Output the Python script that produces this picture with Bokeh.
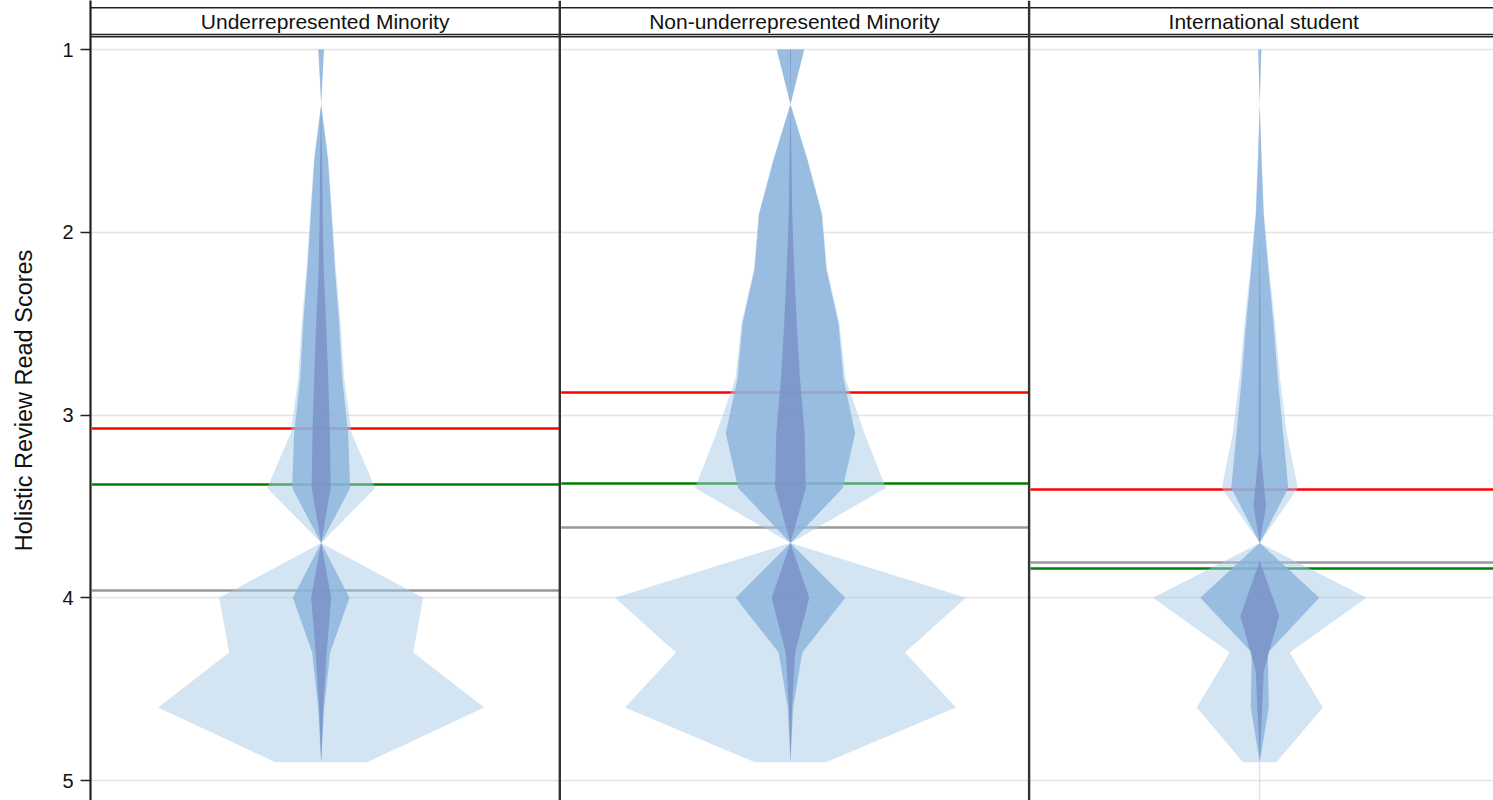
from bokeh.plotting import figure
from bokeh.models import Range1d, FixedTicker, Span
from bokeh.core.properties import value
from bokeh.embed import file_html
from bokeh.resources import INLINE

# ---------------- data ----------------
panels = ["Underrepresented Minority", "Non-underrepresented Minority", "International student"]
y_title = "Holistic Review Read Scores"
y_ticks = [1, 2, 3, 4, 5]

score_levels = [1.0, 1.3, 1.6, 1.9, 2.2, 2.5, 2.8, 3.1, 3.4, 3.7, 4.0, 4.3, 4.6, 4.9]

# half-width profiles (density units) for the three nested layers
urm_outer  = [3.0, 0, 7.3, 11.0, 14.6, 19.5, 23.0, 30.5, 54.0, 0, 102.0, 92.0, 163.0, 46.0]
urm_middle = [2.7, 0, 6.7, 10.3, 13.7, 18.0, 21.0, 27.0, 29.0, 0, 28.3, 9.0, 3.0, 0]
urm_inner  = [0, 0, 1.0, 1.5, 2.5, 5.0, 7.0, 8.7, 9.5, 0, 10.0, 5.5, 2.0, 0]

nonurm_outer  = [13.9, 0, 17.2, 31.8, 36.5, 49.0, 55.0, 74.0, 95.5, 0, 175.5, 114.5, 165.5, 35.5]
nonurm_middle = [13.7, 0, 16.7, 31.3, 35.8, 48.0, 53.0, 64.7, 52.3, 0, 54.8, 11.8, 2.7, 0]
nonurm_inner  = [0.5, 0, 1.0, 1.7, 3.7, 6.3, 9.5, 14.2, 15.3, 0, 18.8, 4.7, 1.5, 0]

intl_outer  = [1.6, 0, 2.0, 4.3, 9.3, 15.3, 20.3, 27.0, 38.0, 0, 106.7, 30.0, 63.0, 16.7]
intl_middle = [1.5, 0, 1.7, 3.8, 8.5, 13.7, 18.0, 23.3, 28.5, 0, 59.5, 8.0, 9.0, 0]
intl_inner_levels = [2.0, 2.5, 3.2, 3.5, 3.7, 3.8, 4.1, 4.4, 4.6, 4.9]
intl_inner = [0, 0.8, 1.0, 6.2, 0, 0, 19.5, 4.0, 2.5, 0]
intl_tail = [4.9, 5.2]

red_means = [3.074, 2.877, 3.408]
green_means = [3.380, 3.375, 3.840]
gray_means = [3.960, 3.616, 3.807]

# ---------------- layout constants ----------------
PX_PER_UNIT = 182.75          # vertical pixels per score unit
PANEL_PX = 469.3              # panel width in pixels
W_SCALE = 1.0 / PANEL_PX      # density units -> panel fraction
CENTER = 0.4915               # violin centre inside a panel
FONT = "Liberation Sans"
FIG_W, FIG_H, LEFT = 1493, 800, 90

def page_y(py):
    return 1 + (py - 49) / PX_PER_UNIT

p = figure(width=FIG_W, height=FIG_H, output_backend="svg", toolbar_location=None,
           x_range=Range1d(0, (FIG_W - LEFT) / PANEL_PX),
           y_range=Range1d(page_y(FIG_H), page_y(0)),
           x_axis_location=None,
           min_border_left=LEFT, min_border_right=0, min_border_top=0, min_border_bottom=0)
p.outline_line_color = None
p.background_fill_color = "white"
p.border_fill_color = "white"
p.xgrid.visible = False
p.ygrid.ticker = FixedTicker(ticks=y_ticks)
p.ygrid.grid_line_color = "#e4e4e4"
p.ygrid.grid_line_width = 1.6

yax = p.yaxis[0]
yax.ticker = FixedTicker(ticks=y_ticks)
yax.major_label_text_font = FONT
yax.major_label_text_font_size = "20px"
yax.major_label_text_color = "#111111"
yax.major_tick_out = 10
yax.major_tick_in = 0
yax.minor_tick_out = 0
yax.minor_tick_in = 0
yax.major_label_standoff = 7
yax.axis_line_width = 2.2
yax.axis_line_color = "#222222"
yax.major_tick_line_width = 1.6
yax.major_tick_line_color = "#222222"
yax.axis_label = y_title
yax.axis_label_text_font = FONT
yax.axis_label_text_font_size = "23.5px"
yax.axis_label_text_font_style = "normal"
yax.axis_label_text_color = "#111111"
yax.axis_label_standoff = 22

# stat lines (under the violins)
for i in range(3):
    p.segment(x0=[i + 0.003], x1=[i + 1], y0=[red_means[i]], y1=[red_means[i]],
              line_color="#ff0000", line_width=2.6)
    p.segment(x0=[i + 0.003], x1=[i + 1], y0=[green_means[i]], y1=[green_means[i]],
              line_color="#008000", line_width=2.6)
    p.segment(x0=[i + 0.003], x1=[i + 1], y0=[gray_means[i]], y1=[gray_means[i]],
              line_color="#999999", line_width=2.6)

def poly(center, levels, widths):
    xs = [center - w * W_SCALE for w in widths] + [center + w * W_SCALE for w in reversed(widths)]
    ys = list(levels) + list(reversed(levels))
    return xs, ys

layers = [
    ([(score_levels, urm_outer), (score_levels, nonurm_outer), (score_levels, intl_outer)], "#a7c9e7", 0.5),
    ([(score_levels, urm_middle), (score_levels, nonurm_middle), (score_levels, intl_middle)], "#89b3db", 0.8),
    ([(score_levels, urm_inner), (score_levels, nonurm_inner), (intl_inner_levels, intl_inner)], "#7990c7", 0.8),
]
for profiles, color, alpha in layers:
    xs_all, ys_all = [], []
    for i, (lv, wd) in enumerate(profiles):
        xs, ys = poly(i + CENTER, lv, wd)
        xs_all.append(xs)
        ys_all.append(ys)
    p.patches(xs=xs_all, ys=ys_all, fill_color=color, fill_alpha=alpha, line_color=None)

p.segment(x0=[2 + CENTER], x1=[2 + CENTER], y0=[intl_tail[0]], y1=[intl_tail[1]],
          line_color="#c5d9ef", line_width=1)

# facet strips and panel borders
for py in (7.3, 34, 36.3):
    p.add_layout(Span(location=page_y(py), dimension="width", line_color="#222222", line_width=1.5))
for bx in (1, 2):
    p.add_layout(Span(location=bx, dimension="height", line_color="#333333", line_width=2.4))

p.text(x=[i + 0.5 for i in range(3)], y=[page_y(21.0)] * 3, text=panels,
       text_align="center", text_baseline="middle",
       text_font=value(FONT), text_font_size=value("21px"), text_color="#111111")

open("out.html", "w").write(file_html(p, INLINE))
